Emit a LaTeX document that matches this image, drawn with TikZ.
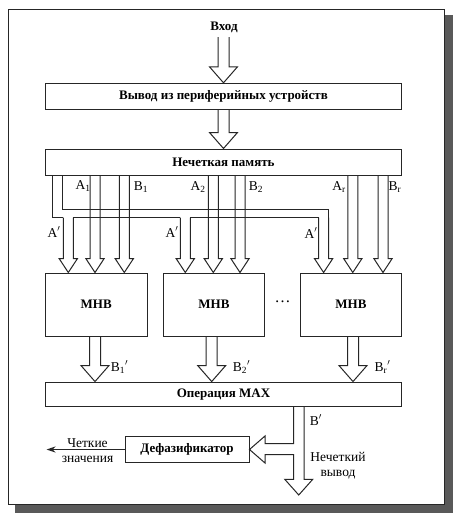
\documentclass[tikz,border=0pt]{standalone}
\usepackage{fontspec}
\setmainfont{Liberation Serif}
\usetikzlibrary{positioning,calc,arrows.meta}

\colorlet{ink}{black!85}
\tikzset{
  block/.style={draw=ink, line width=1pt, inner sep=0pt, font=\fontsize{13}{15}\selectfont\bfseries},
  pipe/.style={draw=ink, line width=1pt},
  lbl/.style={inner sep=0pt, font=\fontsize{13.5}{16}\selectfont},
}

% hollow arrow pointing down: [shaft/head/head length]{x}{from}{to}
\newcommand{\fatdown}[4][5/9.2/14]{%
  \foreach \sw/\hw/\hl in {#1}{%
    \draw[pipe] let \p1=(#3), \p2=(#4) in
      ({(#2-\sw)*1pt},\y1) -- ({(#2-\sw)*1pt},{\y2+\hl*1pt}) -- ({(#2-\hw)*1pt},{\y2+\hl*1pt})
      -- ({#2*1pt},\y2) -- ({(#2+\hw)*1pt},{\y2+\hl*1pt}) -- ({(#2+\sw)*1pt},{\y2+\hl*1pt})
      -- ({(#2+\sw)*1pt},\y1);
  }}

\begin{document}
\begin{tikzpicture}[x=1pt,y=-1pt]
  \useasboundingbox (0,0) rectangle (459,520);
  % Frame
  \fill[black!65] (15,15) rectangle (452.5,513);
  \draw[ink, fill=white, line width=0.8pt] (8,9.5) rectangle (444,504);

  %Define nodes
  \node[block, draw=none] (input) at (224,27) {Вход};
  \coordinate (inTop) at (223.5,37);
  \node[block, minimum width=356, minimum height=26] (periph) at (223.5,96.3) {Вывод из периферийных устройств};
  \node[block, minimum width=356, minimum height=26] (mem) at (223.5,162) {Нечеткая память};
  \node[block, minimum width=101.5, minimum height=63] (mhbA) at (96.25,304.5) {МНВ};
  \node[block, minimum width=101.5, minimum height=63] (mhbB) at (214,304.5) {МНВ};
  \node[block, minimum width=101.5, minimum height=63] (mhbC) at (351,304.5) {МНВ};
  \node[lbl, font=\fontsize{16}{16}\selectfont] (dots) at (282.5,302) {\dots};
  \node[block, minimum width=356, minimum height=24.5] (max) at (223.5,394.3) {Операция MAX};
  \node[block, minimum width=124, minimum height=26] (defuzz) at (187,449.5) {Дефазификатор};
  \coordinate (crisp) at (46.5,449.5);
  \coordinate (outTip) at (298.75,495);

  % Connect the nodes
  \fatdown[5.5/14/16]{223.5}{inTop}{periph.north}
  \fatdown[5.5/14/16]{223.5}{periph.south}{mem.north}

  % A' pipe
  \draw[pipe] (mem.south -| 52.7,0) |- (63.3,217.7);
  \draw[pipe] (mem.south -| 62.7,0) |- (328.6,209.3) -- (328.6,217.7);
  \draw[pipe] (73.3,217.7) -- (180.3,217.7);
  \draw[pipe] (190.3,217.7) -- (318.6,217.7);
  \fatdown{68.3}{0,217.7}{mhbA.north}
  \fatdown{185.3}{0,217.7}{mhbB.north}
  \fatdown{323.6}{0,217.7}{mhbC.north}

  \fatdown{95}{mem.south}{mhbA.north}
  \fatdown{124.3}{mem.south}{mhbA.north}
  \fatdown{213.3}{mem.south}{mhbB.north}
  \fatdown{240}{mem.south}{mhbB.north}
  \fatdown{352.8}{mem.south}{mhbC.north}
  \fatdown{383}{mem.south}{mhbC.north}

  \fatdown[5.5/14/16]{95}{mhbA.south}{max.north}
  \fatdown[5.5/14/16]{211.7}{mhbB.south}{max.north}
  \fatdown[5.5/14/16]{353}{mhbC.south}{max.north}

  % B' pipe
  \draw[pipe] (max.south -| 293.5,0) |- (265,443.5) -- (265,436) -- (defuzz.east)
    -- (265,463) -- (265,454.5) -| (293.5,479.3) -- (284.75,479.3) -- (outTip)
    -- (312.75,479.3) -- (304,479.3) -- (max.south -| 304,0);
  \draw[ink, line width=1.8pt, -{Stealth[length=9pt,width=6pt]}] (defuzz.west) -- (crisp);

  % Labels
  \node[lbl] (la1) at (83,186) {A\textsubscript{1}};
  \node[lbl] (lb1) at (141,187) {B\textsubscript{1}};
  \node[lbl] (la2) at (198,187) {A\textsubscript{2}};
  \node[lbl] (lb2) at (256,187) {B\textsubscript{2}};
  \node[lbl] (lar) at (339,187) {A\textsubscript{r}};
  \node[lbl] (lbr) at (395,187) {B\textsubscript{r}};
  \node[lbl] (lpa) at (54,232) {A$'$};
  \node[lbl] (lpb) at (172,232) {A$'$};
  \node[lbl] (lpc) at (311,233) {A$'$};
  \node[lbl] (lq1) at (119.5,367) {B\textsubscript{1}$'$};
  \node[lbl] (lq2) at (241.5,367) {B\textsubscript{2}$'$};
  \node[lbl] (lqr) at (382.5,367) {B\textsubscript{r}$'$};
  \node[lbl] (lout) at (316,420) {B$'$};
  \node[lbl, align=center] (lcrisp) at (87.5,451) {Четкие\\[-1pt]значения};
  \node[lbl, align=center] (lfuzzy) at (338,465.5) {Нечеткий\\[-1pt]вывод};
\end{tikzpicture}
\end{document}
